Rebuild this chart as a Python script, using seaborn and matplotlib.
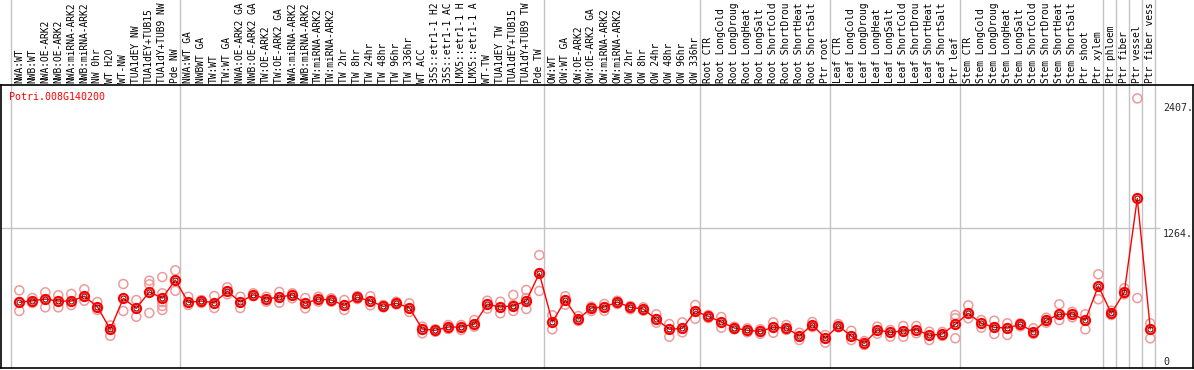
import matplotlib
matplotlib.use("Agg")
import matplotlib.pyplot as plt
import seaborn as sns
import pandas as pd
import numpy as np

gene = "Potri.008G140200"

# sample names as they show in the header strip (long ones are cut off there)
labels = [
    "NWA:WT", "NWB:WT", "NWA:OE-ARK2", "NWB:OE-ARK2", "NWA:miRNA-ARK2", "NWB:miRNA-ARK2",
    "NW 0hr", "WT H2O", "WT-NW", "TUA1dEY NW", "TUA1dEY+TUB15", "TUA1dY+TUB9 NW", "Pde NW",
    "NWA:WT GA", "NWBWT GA", "TW:WT", "TW:WT GA", "NWA:OE-ARK2 GA", "NWB:OE-ARK2 GA",
    "TW:OE-ARK2", "TW:OE-ARK2 GA", "NWA:miRNA-ARK2", "NWB:miRNA-ARK2", "TW:miRNA-ARK2",
    "TW:miRNA-ARK2", "TW 2hr", "TW 8hr", "TW 24hr", "TW 48hr", "TW 96hr", "TW 336hr", "WT ACC",
    "35S::etr1-1 H2", "35S::etr1-1 AC", "LMX5::etr1-1 H", "LMX5::etr1-1 A", "WT-TW",
    "TUA1dEY TW", "TUA1dEY+TUB15", "TUA1dY+TUB9 TW", "Pde TW",
    "OW:WT", "OW:WT GA", "OW:OE-ARK2", "OW:OE-ARK2 GA", "OW:miRNA-ARK2", "OW:miRNA-ARK2",
    "OW 2hr", "OW 8hr", "OW 24hr", "OW 48hr", "OW 96hr", "OW 336hr",
    "Root CTR", "Root LongCold", "Root LongDroug", "Root LongHeat", "Root LongSalt",
    "Root ShortCold", "Root ShortDrou", "Root ShortHeat", "Root ShortSalt", "Ptr root",
    "Leaf CTR", "Leaf LongCold", "Leaf LongDroug", "Leaf LongHeat", "Leaf LongSalt",
    "Leaf ShortCold", "Leaf ShortDrou", "Leaf ShortHeat", "Leaf ShortSalt", "Ptr leaf",
    "Stem CTR", "Stem LongCold", "Stem LongDroug", "Stem LongHeat", "Stem LongSalt",
    "Stem ShortCold", "Stem ShortDrou", "Stem ShortHeat", "Stem ShortSalt", "Ptr shoot",
    "Ptr xylem", "Ptr phloem", "Ptr fiber", "Ptr vessel", "Ptr fiber vess",
]

# sizes of the sample groups separated by grey lines
group_sizes = [13, 28, 12, 10, 10, 11, 1, 1, 1, 1]

means = [
    594, 609, 624, 606, 606, 649, 555, 350, 631, 540, 688, 633, 796,
    594, 606, 591, 694, 597, 663, 624, 642, 661, 585, 624, 615, 567, 640, 606,
    558, 585, 546, 353, 341, 371, 371, 398, 576, 552, 564, 606, 857,
    416, 613, 443, 543, 552, 597, 549, 534, 441, 350, 359, 513,
    468, 416, 362, 341, 332, 368, 362, 290, 392, 269,
    383, 287, 223, 344, 323, 335, 347, 296, 308, 395,
    495, 404, 368, 362, 395, 328, 432, 486, 489, 432, 742,
    495, 685, 1535, 353,
]

replicates = [
    [703, 516, 597], [633, 588], [685, 549], [658, 549], [670, 570], [712, 609],
    [597, 525], [385, 292], [760, 516], [615, 464], [790, 757, 498],
    [823, 676, 597, 561, 525], [884, 699],
    [645, 570], [615, 588], [651, 543], [730, 667], [645, 543], [676, 651],
    [645, 600], [688, 591], [676, 631], [633, 540], [645, 600], [631, 600],
    [615, 525], [651, 624], [649, 567], [570, 549], [600, 576], [585, 507],
    [374, 314], [350, 328], [389, 353], [389, 344], [434, 374], [609, 537],
    [600, 495], [661, 516, 570], [706, 633, 534], [1022, 697],
    [477, 350], [649, 573], [470, 425], [555, 516], [579, 518], [609, 579],
    [561, 531], [549, 518], [486, 410], [398, 283], [413, 323], [570, 446],
    [480, 452], [461, 365], [374, 350], [359, 323], [350, 310], [413, 319],
    [389, 344], [319, 253], [416, 371], [298, 229],
    [398, 368], [337, 253], [244, 208], [374, 310], [344, 283], [380, 283],
    [380, 314], [328, 253], [326, 290], [480, 450, 269],
    [567, 450], [434, 365], [428, 308], [404, 299], [404, 377], [359, 308],
    [455, 410], [576, 434], [509, 459], [486, 350], [848, 622],
    [518, 480], [721, 667], [2440, 633], [404, 269],
]

y_ticks = [2407, 1264, 0]

idx = np.arange(len(labels))
mean_df = pd.DataFrame({"sample": idx, "value": means})
rep_df = pd.DataFrame(
    [(i, v) for i, reps in enumerate(replicates) for v in reps],
    columns=["sample", "value"],
)

sns.set_style("white")
plt.rcParams["font.family"] = ["DejaVu Sans Mono"]

W, H = 1194, 370
fig = plt.figure(figsize=(W / 100, H / 100), dpi=100)
ax_top, ax_bot = 85, 368
ax = fig.add_axes([1 / W, (H - ax_bot) / H, 1192 / W, (ax_bot - ax_top) / H])

# x in sample units: sample i sits at 19.3 + 13*i px
x0 = (1 - 19.3) / 13
x1 = (1193 - 19.3) / 13
ax.set_xlim(x0, x1)
ax.set_ylim(0, 2561)

grey = "#c3c3c3"
bounds = np.concatenate([[0], np.cumsum(group_sizes)]) - 0.64
for b in bounds:
    ax.axvline(b, 0, ax_bot / (ax_bot - ax_top), color=grey, lw=1,
               clip_on=False, zorder=0)
ax.hlines(1264, x0, (1160 - 19.3) / 13, color=grey, lw=1, zorder=0)

sns.scatterplot(data=rep_df, x="sample", y="value", ax=ax, marker="o",
                facecolor="none", edgecolor="#ee9a9a", linewidth=1.1, s=42,
                legend=False, zorder=2)
sns.lineplot(data=mean_df, x="sample", y="value", ax=ax, color="red", lw=1,
             marker="o", markersize=6.5, markerfacecolor="none",
             markeredgecolor="red", markeredgewidth=1.6, zorder=3)
ax.plot(idx, means, ls="none", marker="o", ms=3.6, mfc="none", mec="#600000",
        mew=0.7, zorder=4)

for i, lab in enumerate(labels):
    ax.text(i, 1.008, lab, transform=ax.get_xaxis_transform(), rotation=90,
            ha="center", va="bottom", fontsize=6.9, color="black", clip_on=False)

ax.text(-0.78, 2500, gene, color="red", fontsize=7.2, ha="left", va="top")

tx = (1163 - 19.3) / 13
ax.text(tx, y_ticks[0] - 10, f"{y_ticks[0]}.", fontsize=7.2, ha="left", va="top")
ax.text(tx, y_ticks[1] - 10, f"{y_ticks[1]}.", fontsize=7.2, ha="left", va="top")
ax.text(tx, 8, f"{y_ticks[2]}", fontsize=7.2, ha="left", va="bottom")

ax.set_xticks([])
ax.set_yticks([])
ax.set_xlabel("")
ax.set_ylabel("")
for s in ax.spines.values():
    s.set_color("black")
    s.set_linewidth(1.2)
    s.set_visible(True)

fig.savefig("out.png", dpi=100)
